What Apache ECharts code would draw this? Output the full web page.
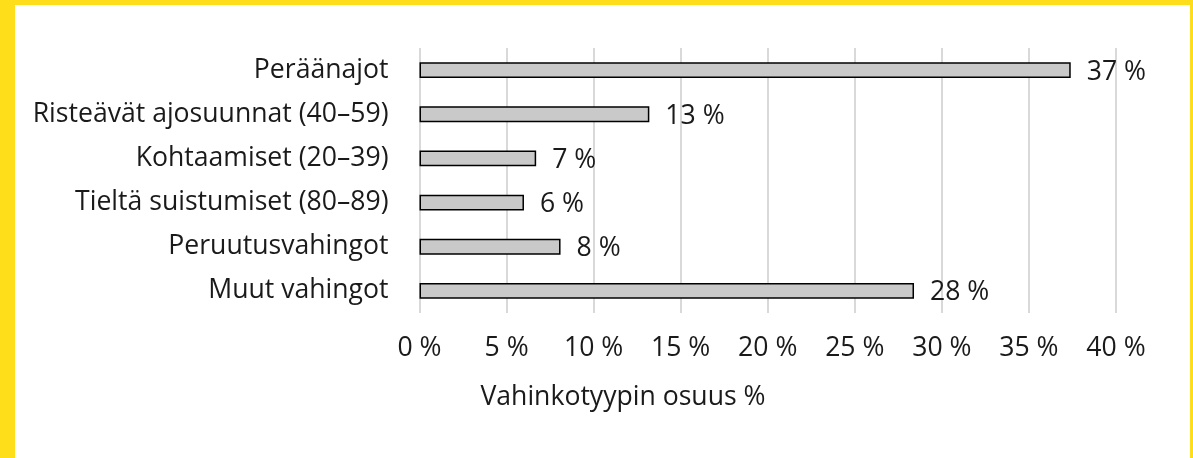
<!DOCTYPE html>
<html>
<head>
<meta charset="utf-8">
<script src="https://cdn.jsdelivr.net/npm/echarts@6/dist/echarts.min.js"></script>
<style>
  html, body { margin: 0; padding: 0; background: #FEDD1B; width: 1193px; height: 458px; overflow: hidden; }
  #chart { position: absolute; left: 15px; top: 5px; width: 1175px; height: 453px; background: #fff; }
</style>
</head>
<body>
<div id="chart"></div>
<script>
// vahinkotyypit ylhäältä alas
const categories = [
  'Peräänajot',
  'Risteävät ajosuunnat (40–59)',
  'Kohtaamiset (20–39)',
  'Tieltä suistumiset (80–89)',
  'Peruutusvahingot',
  'Muut vahingot'
];
const shares = [37.4, 13.2, 6.7, 6.0, 8.1, 28.4];
const shareLabels = ['37 %', '13 %', '7 %', '6 %', '8 %', '28 %'];
const xTicks = [0, 5, 10, 15, 20, 25, 30, 35, 40];

const font = '"Open Sans", "Noto Sans", sans-serif';
const fontSize = 26.6;
const textColor = '#1a1a1a';

const chart = echarts.init(document.getElementById('chart'));
chart.setOption({
  animation: false,
  title: {
    text: 'Vahinkotyypin osuus %',
    left: 603,
    top: 374,
    textAlign: 'center',
    textStyle: { fontFamily: font, fontSize: fontSize, fontWeight: 'normal', color: textColor }
  },
  grid: { left: 404.5, right: 74, top: 43, bottom: 145, containLabel: false },
  xAxis: {
    type: 'value',
    min: 0,
    max: 40,
    interval: 5,
    axisLine: { show: false },
    axisTick: { show: false },
    splitLine: { lineStyle: { color: '#d9d9d9', width: 2 } },
    axisLabel: {
      margin: 22,
      fontFamily: font,
      fontSize: fontSize,
      color: textColor,
      formatter: v => (xTicks.includes(v) ? v + ' %' : '')
    }
  },
  yAxis: {
    type: 'category',
    inverse: true,
    data: categories,
    axisLine: { show: false },
    axisTick: { show: false },
    axisLabel: { margin: 31, fontFamily: font, fontSize: fontSize, color: textColor }
  },
  series: [{
    type: 'bar',
    data: shares,
    barWidth: '36%',
    itemStyle: { color: '#c9c9c9', borderColor: '#000', borderWidth: 1.5 },
    label: {
      show: true,
      position: 'right',
      distance: 16,
      offset: [0, 2],
      fontFamily: font,
      fontSize: fontSize,
      color: textColor,
      formatter: p => shareLabels[p.dataIndex]
    }
  }]
});
</script>
</body>
</html>
